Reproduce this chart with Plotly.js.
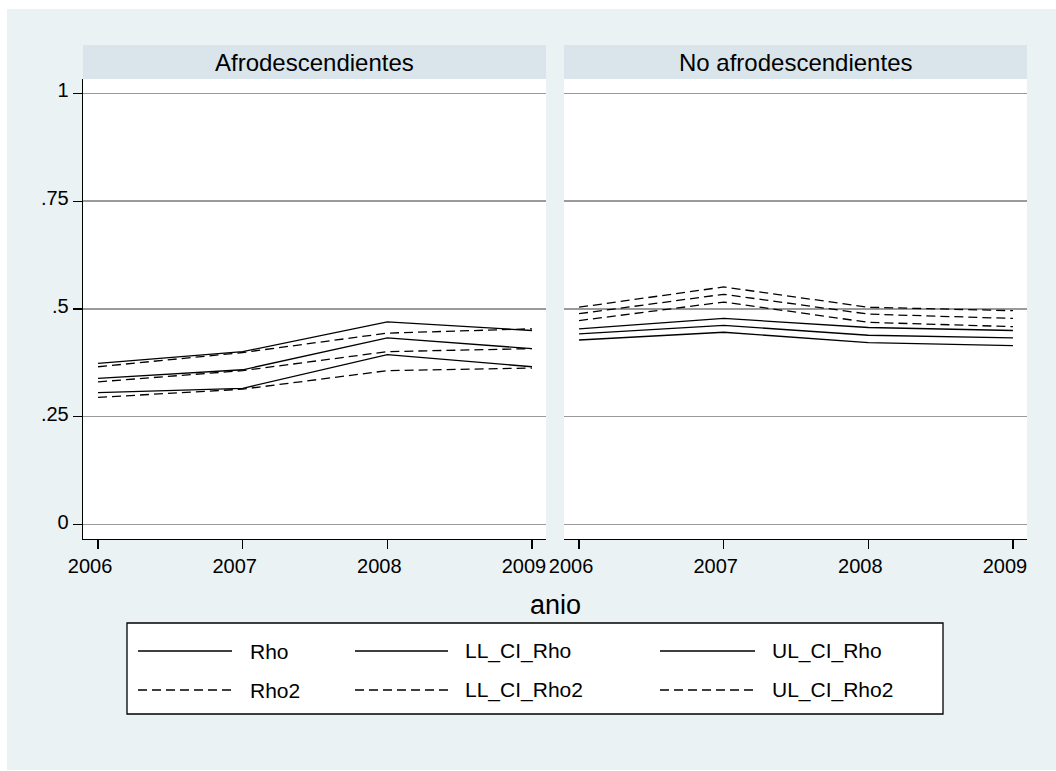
<!DOCTYPE html>
<html>
<head>
<meta charset="utf-8">
<script src="https://cdn.plot.ly/plotly-3.0.1.min.js"></script>
<style>html,body{margin:0;padding:0;background:#fff;}#chart{width:1056px;height:771px;}</style>
</head>
<body>
<div id="chart"></div>
<script>
// ---- data ----
var years = [2006, 2007, 2008, 2009];
var panelTitles = ["Afrodescendientes", "No afrodescendientes"];
var seriesNames = ["Rho", "LL_CI_Rho", "UL_CI_Rho", "Rho2", "LL_CI_Rho2", "UL_CI_Rho2"];
var yTickVals = [0, 0.25, 0.5, 0.75, 1];
var yTickText = ["0", ".25", ".5", ".75", "1"];
var xTitle = "anio";

// Afrodescendientes
var rho_afro     = [0.339, 0.359, 0.433, 0.408];
var ll_rho_afro  = [0.306, 0.316, 0.394, 0.366];
var ul_rho_afro  = [0.374, 0.401, 0.470, 0.450];
var rho2_afro    = [0.331, 0.357, 0.401, 0.408];
var ll_rho2_afro = [0.295, 0.314, 0.357, 0.363];
var ul_rho2_afro = [0.366, 0.399, 0.444, 0.454];

// No afrodescendientes
var rho_no     = [0.442, 0.462, 0.439, 0.433];
var ll_rho_no  = [0.428, 0.446, 0.422, 0.415];
var ul_rho_no  = [0.454, 0.478, 0.457, 0.450];
var rho2_no    = [0.489, 0.534, 0.488, 0.478];
var ll_rho2_no = [0.473, 0.516, 0.469, 0.459];
var ul_rho2_no = [0.504, 0.551, 0.504, 0.496];

var afroSeries = [rho_afro, ll_rho_afro, ul_rho_afro, rho2_afro, ll_rho2_afro, ul_rho2_afro];
var noSeries   = [rho_no, ll_rho_no, ul_rho_no, rho2_no, ll_rho2_no, ul_rho2_no];

// ---- styling / layout ----
var FONT = "Liberation Sans, Arial, Helvetica, sans-serif";
var DASH = "9px,5px";
var W = 1056, H = 771;
var M = {l: 83, r: 29, t: 79, b: 232};
var PW = W - M.l - M.r, PH = H - M.t - M.b;
function px(x) { return (x - M.l) / PW; }
function py(y) { return (H - M.b - y) / PH; }

function dashFor(i) { return i >= 3 ? DASH : "solid"; }

var traces = [];
[afroSeries, noSeries].forEach(function (set, p) {
  set.forEach(function (vals, i) {
    traces.push({
      type: "scatter", mode: "lines",
      x: years, y: vals,
      name: seriesNames[i],
      xaxis: p === 0 ? "x" : "x2", yaxis: "y",
      line: {color: "#000000", width: 1.3, dash: dashFor(i)},
      showlegend: false, hoverinfo: "x+y+name"
    });
  });
});

var dom1 = [0, px(546)], dom2 = [px(564), 1];

var shapes = [
  // graph region
  {type: "rect", xref: "paper", yref: "paper", x0: px(7), x1: px(W), y0: py(770), y1: py(9),
   fillcolor: "#eaf2f3", line: {width: 0}, layer: "below"},
  // panels
  {type: "rect", xref: "paper", yref: "paper", x0: dom1[0], x1: dom1[1], y0: 0, y1: 1,
   fillcolor: "#ffffff", line: {width: 0}, layer: "below"},
  {type: "rect", xref: "paper", yref: "paper", x0: dom2[0], x1: dom2[1], y0: 0, y1: 1,
   fillcolor: "#ffffff", line: {width: 0}, layer: "below"},
  // strips
  {type: "rect", xref: "paper", yref: "paper", x0: dom1[0], x1: dom1[1], y0: 1, y1: py(45),
   fillcolor: "#d9e5ea", line: {width: 0}, layer: "below"},
  {type: "rect", xref: "paper", yref: "paper", x0: dom2[0], x1: dom2[1], y0: 1, y1: py(45),
   fillcolor: "#d9e5ea", line: {width: 0}, layer: "below"},
  // legend box
  {type: "rect", xref: "paper", yref: "paper", x0: px(127), x1: px(943), y0: py(714), y1: py(623),
   fillcolor: "#ffffff", line: {color: "#000000", width: 1.3}, layer: "above"}
];

var annotations = [
  {text: panelTitles[0], xref: "paper", yref: "paper", x: (dom1[0] + dom1[1]) / 2, y: py(63),
   showarrow: false, xanchor: "center", yanchor: "middle", font: {family: FONT, size: 24, color: "#000"}},
  {text: panelTitles[1], xref: "paper", yref: "paper", x: (dom2[0] + dom2[1]) / 2, y: py(63),
   showarrow: false, xanchor: "center", yanchor: "middle", font: {family: FONT, size: 24, color: "#000"}},
  {text: xTitle, xref: "paper", yref: "paper", x: 0.5, y: py(605),
   showarrow: false, xanchor: "center", yanchor: "middle", font: {family: FONT, size: 27, color: "#000"}}
];

// legend (manual, Stata-like 3 columns x 2 rows)
var legCols = [{l0: 138, l1: 232, t: 248}, {l0: 355, l1: 448, t: 463}, {l0: 660, l1: 755, t: 770}];
var legRows = [651, 690];
seriesNames.forEach(function (nm, i) {
  var c = legCols[i % 3], r = legRows[Math.floor(i / 3)];
  shapes.push({type: "line", xref: "paper", yref: "paper", x0: px(c.l0), x1: px(c.l1), y0: py(r), y1: py(r),
    line: {color: "#000", width: 1.3, dash: dashFor(i)}, layer: "above"});
  annotations.push({text: nm, xref: "paper", yref: "paper", x: px(c.t), y: py(r),
    showarrow: false, xanchor: "left", yanchor: "middle", font: {family: FONT, size: 21, color: "#000"}});
});

var xCommon = {
  range: [2005.896, 2009.097], tickmode: "array", tickvals: years, ticktext: years.map(String),
  showgrid: false, zeroline: false, showline: true, linecolor: "#000", linewidth: 1.3,
  ticks: "outside", ticklen: 9, tickwidth: 1.2, tickcolor: "#000",
  tickfont: {family: FONT, size: 20, color: "#000"}, ticklabelshift: -8, fixedrange: true
};

var layout = {
  width: W, height: H,
  margin: M,
  paper_bgcolor: "#ffffff", plot_bgcolor: "rgba(0,0,0,0)",
  showlegend: false,
  xaxis: Object.assign({}, xCommon, {domain: dom1, anchor: "y"}),
  xaxis2: Object.assign({}, xCommon, {domain: dom2, anchor: "y"}),
  yaxis: {
    range: [-0.0334, 1.0332], tickmode: "array", tickvals: yTickVals, ticktext: yTickText,
    showgrid: true, gridcolor: "#9a9a9a", gridwidth: 1.4, zeroline: false,
    showline: true, linecolor: "#000", linewidth: 1.3, anchor: "x",
    ticks: "outside", ticklen: 9, tickwidth: 1.2, tickcolor: "#000",
    tickfont: {family: FONT, size: 20, color: "#000"}, ticklabelshift: -3, fixedrange: true
  },
  shapes: shapes,
  annotations: annotations,
  font: {family: FONT, color: "#000"}
};

Plotly.newPlot("chart", traces, layout, {displayModeBar: false, staticPlot: true});
</script>
</body>
</html>
